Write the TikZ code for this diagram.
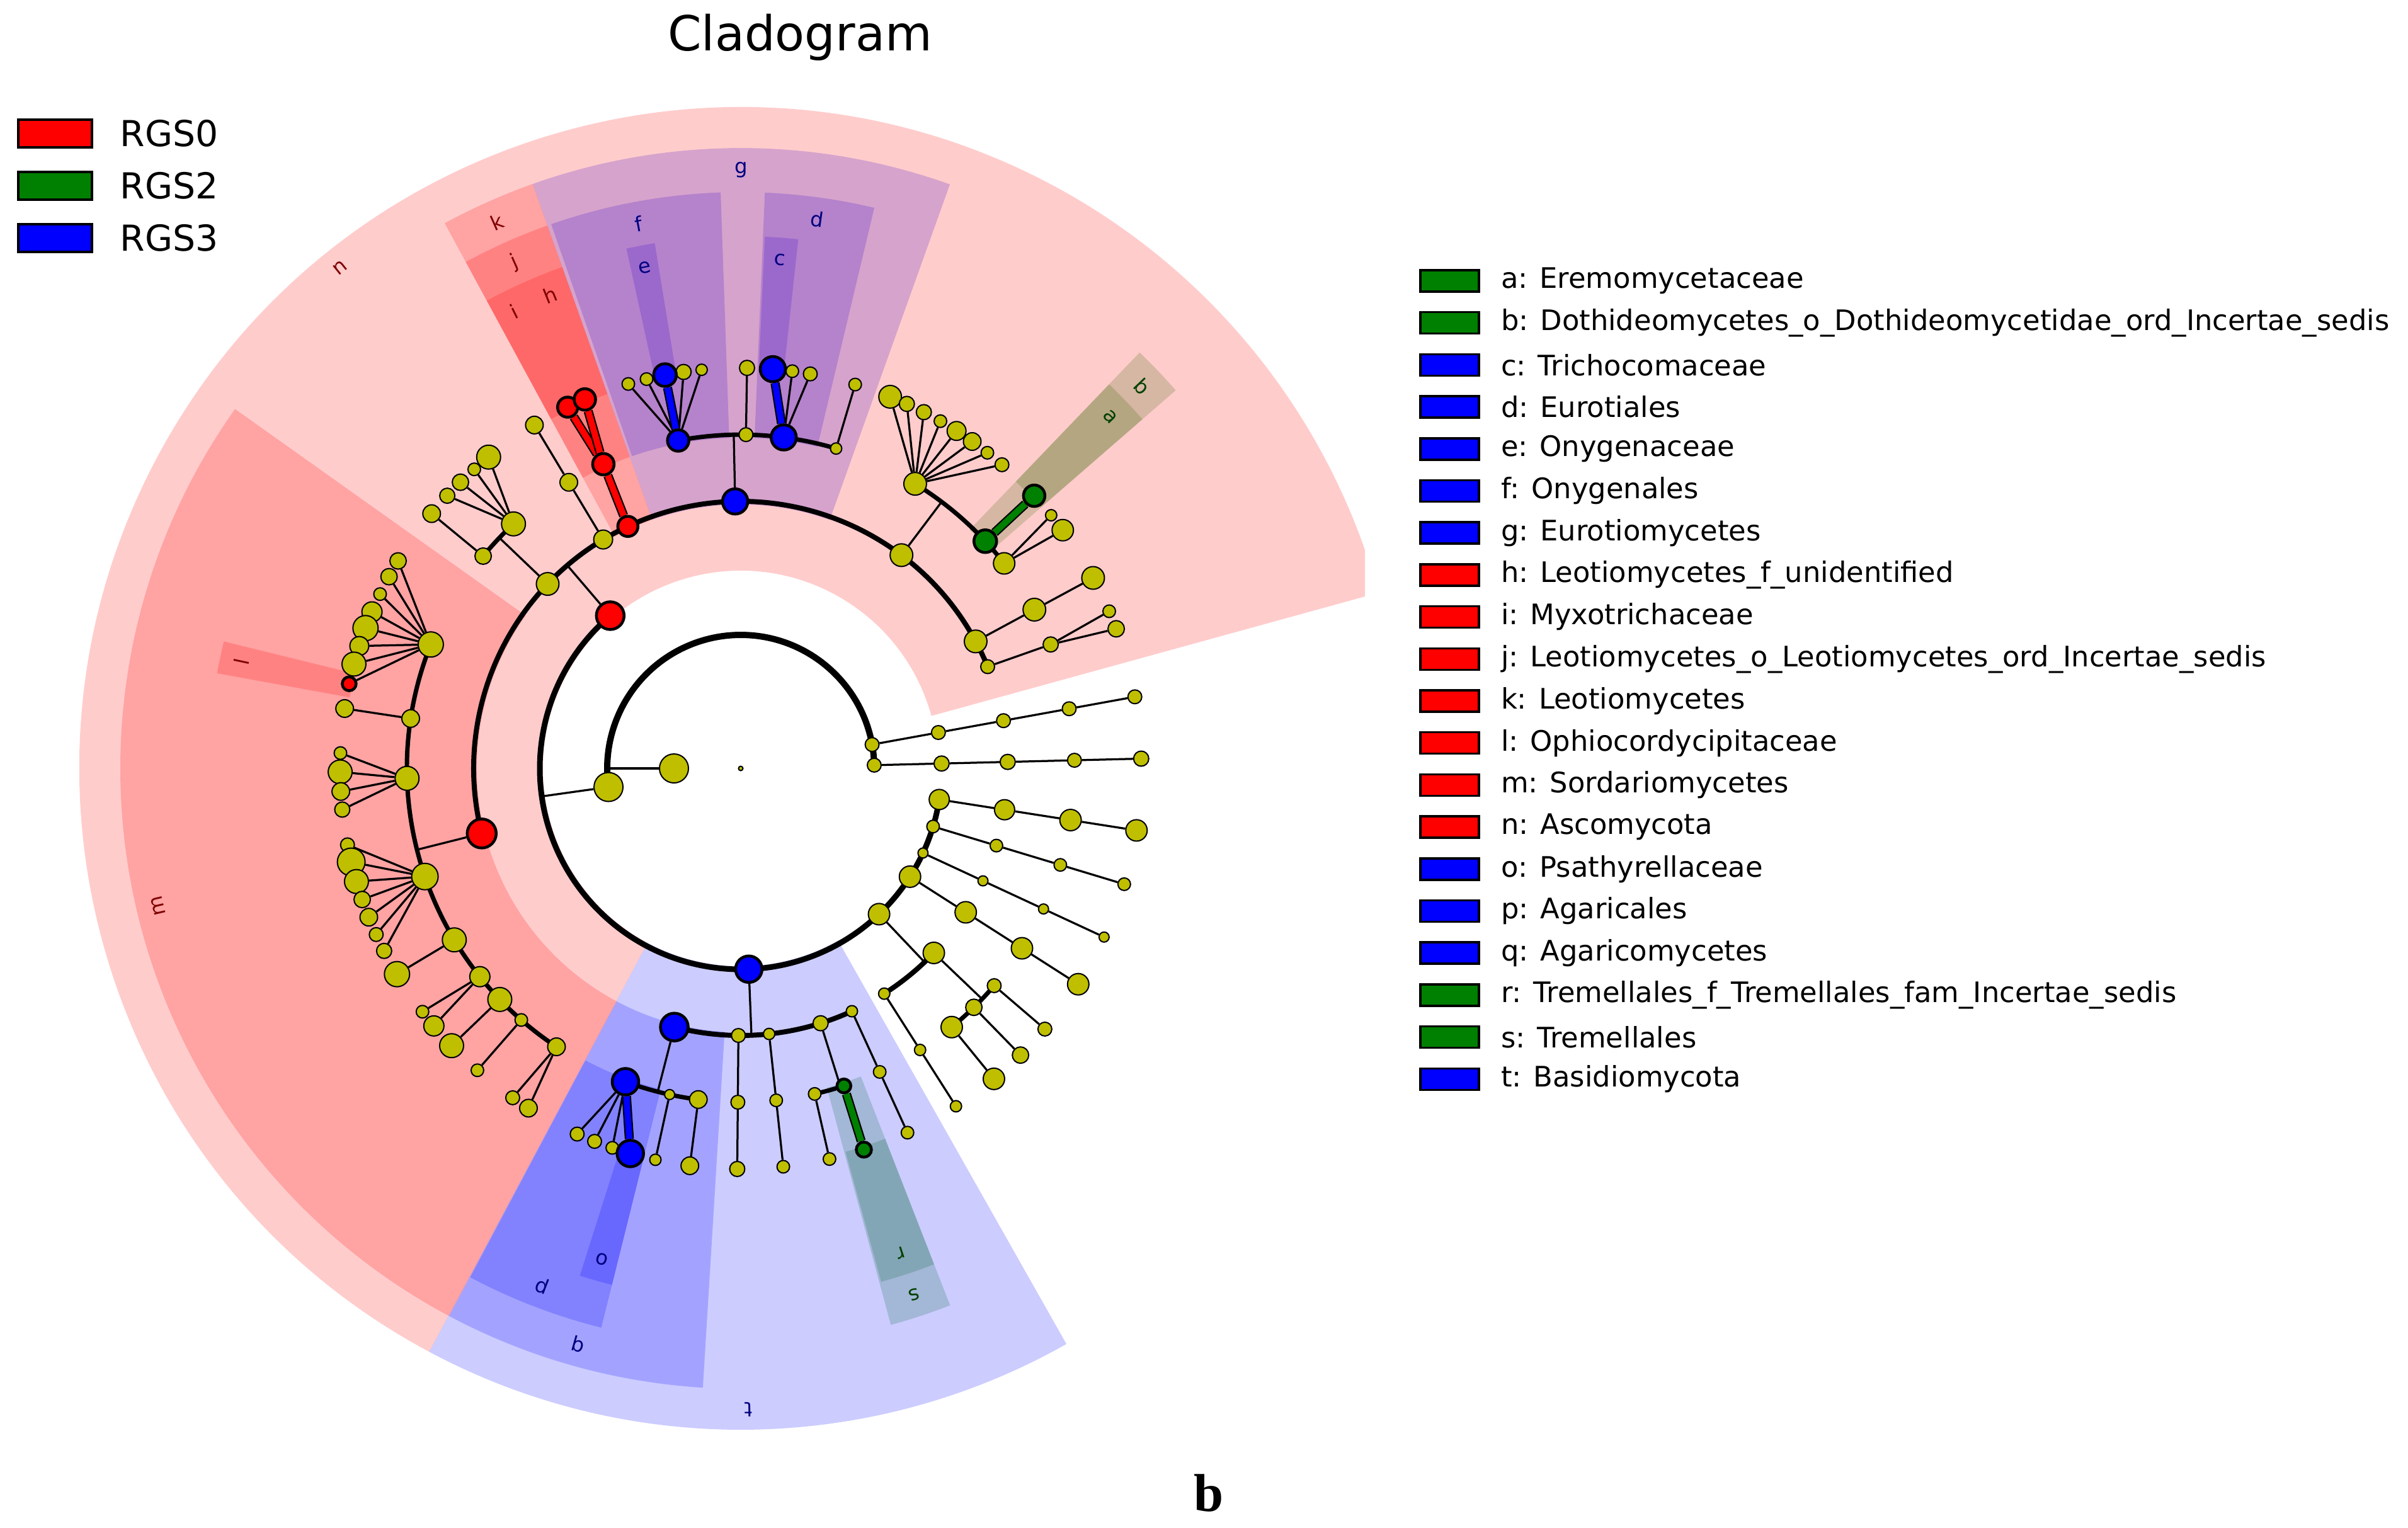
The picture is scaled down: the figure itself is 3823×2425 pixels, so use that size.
\documentclass[tikz,border=0pt]{standalone}
\usepackage{fontspec}
\setmainfont{DejaVu Sans}
\newfontfamily\panelfont{Liberation Serif}

\definecolor{ylw}{rgb}{0.75,0.75,0}
\definecolor{rgsred}{rgb}{1,0,0}
\definecolor{rgsgreen}{rgb}{0,0.5,0}
\definecolor{rgsblue}{rgb}{0,0,1}

\pgfdeclarelayer{paper}
\pgfdeclarelayer{shade}
\pgfdeclarelayer{edges}
\pgfsetlayers{paper,shade,edges,main}

\tikzset{
  yn/.style={circle, draw=black, line width=0.4bp, fill=ylw, inner sep=0pt, minimum size=0.4bp*#1},
  hit/.style 2 args={circle, draw=black, line width=0.9bp, fill=#1, inner sep=0pt, minimum size=0.4bp*#2},
  twig/.style={line width=0.65bp},
  ring/.style={line width=#1},
  hitline/.style={draw=#1, line width=2bp, preaction={draw=black, line width=2.9bp}},
  wlab/.style={font=\fontsize{6.5}{7}\selectfont, inner sep=0pt},
  keybox/.style={draw=black, line width=0.7bp, fill=#1, inner sep=0pt}
}

\newcommand{\cladesector}[7]{%
  \begin{pgfonlayer}{shade}
  \begin{scope}
    \clip (-1200,1300) rectangle (991,-1300);
    \fill[#1, opacity=0.2] (#2:#4) arc[start angle=#2, end angle=#3, radius=#4]
      -- (#3:#5) arc[start angle=#3, end angle=#2, radius=#5] -- cycle;
  \end{scope}
  \end{pgfonlayer}
  \pgfmathsetmacro\midang{(#2+#3)/2}
  \node[wlab, text=#1!50!black, rotate=\midang-90] (lab#7) at (\midang:#6) {#7};}

\newcommand{\bridge}[5]{%
  \coordinate (#1-stem) at (#2:#3);
  \pgfmathsetmacro\ringw{2.4-0.0019*#3}
  \begin{pgfonlayer}{edges}
    \draw[twig] (#1) -- (#1-stem);
    \draw[ring=\ringw bp] (#4:#3) arc[start angle=#4, end angle=#5, radius=#3];
  \end{pgfonlayer}}

\newcommand{\chainout}[3]{%
  \foreach \r/\s [count=\i] in {#3}{%
    \pgfmathtruncatemacro\j{\i-1}
    \node[yn=\s] (#1-\i) at (#2:\r) {};
    \begin{pgfonlayer}{edges}
      \ifnum\i=1 \draw[twig] (#1) -- (#1-\i);
      \else \draw[twig] (#1-\j) -- (#1-\i); \fi
    \end{pgfonlayer}}}

\newcommand{\fanout}[3]{%
  \foreach \a/\s [count=\i] in {#3}{%
    \node[yn=\s] (#1-\i) at (\a:#2) {};
    \begin{pgfonlayer}{edges}\draw[twig] (#1) -- (#1-\i);\end{pgfonlayer}}}

\begin{document}
\begin{tikzpicture}[x=0.2bp, y=0.2bp]
\useasboundingbox (0,0) rectangle (3823,-2425);
\begin{pgfonlayer}{paper}
\fill[white] (0,0) rectangle (3823,-2425);
\end{pgfonlayer}

\node[font=\fontsize{15.4}{18}\selectfont, anchor=base] (title) at (1270,-80) {Cladogram};

\foreach \c/\t [count=\i] in {rgsred/RGS0, rgsgreen/RGS2, rgsblue/RGS3}{
  \node[keybox=\c, minimum width=23.4bp, minimum height=8.8bp] (key\i) at (87.5,{-212-83*(\i-1)}) {};
  \node[anchor=west, font=\fontsize{11.4}{13}\selectfont, inner sep=0pt] (keytext\i) at (190,{-212-83*(\i-1)}) {\t};
}

\foreach \c/\t [count=\i] in {
  rgsgreen/a: Eremomycetaceae,
  rgsgreen/b: Dothideomycetes\_o\_Dothideomycetidae\_ord\_Incertae\_sedis,
  rgsblue/c: Trichocomaceae,
  rgsblue/d: Eurotiales,
  rgsblue/e: Onygenaceae,
  rgsblue/f: Onygenales,
  rgsblue/g: Eurotiomycetes,
  rgsred/h: Leotiomycetes\_f\_unidentified,
  rgsred/i: Myxotrichaceae,
  rgsred/j: Leotiomycetes\_o\_Leotiomycetes\_ord\_Incertae\_sedis,
  rgsred/k: Leotiomycetes,
  rgsred/l: Ophiocordycipitaceae,
  rgsred/m: Sordariomycetes,
  rgsred/n: Ascomycota,
  rgsblue/o: Psathyrellaceae,
  rgsblue/p: Agaricales,
  rgsblue/q: Agaricomycetes,
  rgsgreen/r: Tremellales\_f\_Tremellales\_fam\_Incertae\_sedis,
  rgsgreen/s: Tremellales,
  rgsblue/t: Basidiomycota}{
  \node[keybox=\c, minimum width=18.6bp, minimum height=6.8bp] (tax\i) at (2301.5,{-446-66.7*(\i-1)}) {};
  \node[anchor=west, font=\fontsize{9}{11}\selectfont, inner sep=0pt] (taxtext\i) at (2382,{-446-66.7*(\i-1)}) {\t};
}

\node[font=\panelfont\bfseries\fontsize{17}{20}\selectfont] (panel) at (1919,-2370) {b};

\begin{scope}[shift={(1176,-1220)}]
% shaded clades, deepest first
\cladesector{rgsred}{166.2}{169.7}{631}{845}{810}{l}
\cladesector{rgsred}{114.3}{118.5}{631}{845}{810}{i}
\cladesector{rgsred}{109.6}{114.3}{631}{845}{810}{h}
\cladesector{rgsblue}{99.3}{102.4}{631}{845}{810}{e}
\cladesector{rgsblue}{83.8}{87.4}{631}{845}{810}{c}
\cladesector{rgsgreen}{41}{46.2}{631}{845}{810}{a}
\cladesector{rgsblue}{252.4}{256}{631}{845}{810}{o}
\cladesector{rgsgreen}{285.3}{291.3}{631}{845}{810}{r}
\cladesector{rgsred}{109.6}{118.5}{525}{915}{880}{j}
\cladesector{rgsblue}{92}{109.2}{525}{915}{880}{f}
\cladesector{rgsblue}{76.6}{87.6}{525}{915}{880}{d}
\cladesector{rgsgreen}{41}{46.2}{525}{915}{880}{b}
\cladesector{rgsblue}{242}{256}{525}{915}{880}{p}
\cladesector{rgsgreen}{285.1}{291.3}{525}{915}{880}{s}
\cladesector{rgsred}{144.6}{242}{419}{985}{950}{m}
\cladesector{rgsred}{109.6}{118.5}{419}{985}{950}{k}
\cladesector{rgsblue}{70.3}{109.6}{419}{985}{950}{g}
\cladesector{rgsblue}{242}{266.5}{419}{985}{950}{q}
\cladesector{rgsred}{15.4}{241.9}{314}{1050}{1018}{n}
\cladesector{rgsblue}{241.9}{299.5}{314}{1050}{1018}{t}

\node[yn=3.5] (root) at (0,0) {};
\node[yn=23] (K) at (180:106) {};
\bridge{K}{180}{212}{1.4}{188}
\node[yn=23] (A2) at (188:212) {};
\node[yn=11] (B2) at (10.3:212) {};
\node[yn=11] (C2) at (1.4:212) {};
\bridge{A2}{188}{319}{130.5}{351.1}
\node[hit={rgsred}{22}] (n) at (130.5:319) {};
\node[hit={rgsblue}{21}] (t) at (272.3:319) {};
\node[yn=17] (R1) at (313.5:319) {};
\node[yn=17] (R2) at (327.4:319) {};
\node[yn=8] (R3) at (335.1:319) {};
\node[yn=10] (R4) at (343.2:319) {};
\node[yn=16] (R5) at (351.1:319) {};
\chainout{B2}{10.3}{319/11,424/11,530/11,636/11}
\chainout{C2}{1.4}{319/12,424/12,530/11,636/12}
\chainout{R5}{351.1}{424/16,530/17,636/17}
\chainout{R4}{343.2}{424/10,530/10,636/10}
\chainout{R3}{335.1}{424/8,530/8,636/8}
\chainout{R2}{327.4}{424/17,530/17,636/17}
\bridge{R1}{313.5}{424}{302.5}{316.3}
\node[yn=17] (R1a) at (316.3:424) {};
\node[yn=9] (R1b) at (302.5:424) {};
\chainout{R1b}{302.5}{530/9,636/9}
\bridge{R1a}{316.3}{530}{309.2}{319.4}
\node[yn=11] (R1a1) at (319.4:530) {};
\node[yn=13] (R1a2) at (314.3:530) {};
\node[yn=17] (R1a3) at (309.2:530) {};
\chainout{R1a1}{319.4}{636/11}
\chainout{R1a2}{314.3}{636/13}
\chainout{R1a3}{309.2}{636/17}

\bridge{n}{130.5}{424}{22.4}{194.1}
\node[hit={rgsred}{23}] (m) at (194.1:424) {};
\node[yn=18] (Y136) at (136.3:424) {};
\node[yn=15] (Y121) at (121:424) {};
\node[hit={rgsred}{16}] (k) at (115:424) {};
\node[hit={rgsblue}{20}] (g) at (91.2:424) {};
\node[yn=18] (Y53) at (53:424) {};
\node[yn=18] (Y28) at (28.4:424) {};
\node[yn=11] (Y22) at (22.4:424) {};

\bridge{m}{194.1}{530}{158.2}{236.5}
\node[yn=20] (m1) at (158.2:530) {};
\node[yn=14] (m2) at (171.4:530) {};
\node[yn=19] (m3) at (181.7:530) {};
\node[yn=21] (m4) at (198.9:530) {};
\node[yn=19] (m5) at (210.9:530) {};
\node[yn=16] (m6) at (218.6:530) {};
\node[yn=19] (m7) at (223.8:530) {};
\node[yn=10] (m8) at (228.9:530) {};
\node[yn=14] (m9) at (236.5:530) {};
\fanout{m1}{636}{148.8/13,151.4/13,154.2/10,157/16,159.5/20,162.2/15,164.9/19}
\node[hit={rgsred}{11}] (l) at (167.8:636) {};
\begin{pgfonlayer}{edges}\draw[twig] (m1) -- (l);\end{pgfonlayer}
\chainout{m2}{171.4}{636/14}
\fanout{m3}{636}{177.8/10,180.5/19,183.3/14,185.9/12}
\fanout{m4}{636}{191/11,193.5/22,196.4/19,199.1/13,201.8/14,204.5/11,207.1/12}
\chainout{m5}{210.9}{636/20}
\fanout{m6}{636}{217.4/10,220/16}
\chainout{m7}{223.8}{636/19}
\chainout{m8}{228.9}{636/10}
\fanout{m9}{636}{235.3/11,238/14}

\bridge{Y136}{136.3}{530}{132.9}{140.5}
\node[yn=13] (Y136a) at (140.5:530) {};
\node[yn=19] (Y136b) at (132.9:530) {};
\chainout{Y136a}{140.5}{636/14}
\fanout{Y136b}{636}{137.1/12,134.4/13,131.7/10,129/19}
\chainout{Y121}{121}{530/14,636/14}

\node[hit={rgsred}{17}] (j) at (114.3:530) {};
\node[hit={rgsred}{16}] (i) at (115.6:636) {};
\node[hit={rgsred}{17}] (h) at (112.9:636) {};
\begin{pgfonlayer}{edges}
\draw[hitline=rgsred] (k) -- (j);
\draw[hitline=rgsred] (j) -- (i);
\draw[hitline=rgsred] (j) -- (h);
\end{pgfonlayer}

\bridge{g}{91.2}{530}{73.4}{100.8}
\node[hit={rgsblue}{17}] (f) at (100.8:530) {};
\node[yn=11] (Y89) at (89.1:530) {};
\node[hit={rgsblue}{20}] (d) at (82.6:530) {};
\node[yn=9] (Y73) at (73.4:530) {};
\fanout{f}{636}{106.3/10,103.6/10,98.2/12,95.6/9}
\node[hit={rgsblue}{18}] (e) at (100.9:636) {};
\chainout{Y89}{89.1}{636/12}
\fanout{d}{636}{82.6/10,80/11}
\node[hit={rgsblue}{20}] (c) at (85.4:636) {};
\chainout{Y73}{73.4}{636/10}
\begin{pgfonlayer}{edges}
\draw[hitline=rgsblue] (f) -- (e);
\draw[hitline=rgsblue] (d) -- (c);
\end{pgfonlayer}

\bridge{Y53}{53}{530}{37.9}{58.5}
\node[yn=18] (F58) at (58.5:530) {};
\node[hit={rgsgreen}{18}] (b) at (42.9:530) {};
\node[yn=17] (F38) at (37.9:530) {};
\fanout{F58}{636}{68.1/18,65.5/12,62.8/12,60.1/10,57.4/15,54.7/14,52/10,49.3/11}
\node[hit={rgsgreen}{17}] (a) at (42.9:636) {};
\fanout{F38}{636}{39.2/9,36.5/17}
\begin{pgfonlayer}{edges}\draw[hitline=rgsgreen] (b) -- (a);\end{pgfonlayer}
\chainout{Y28}{28.4}{530/18,636/18}
\chainout{Y22}{21.8}{530/12}
\fanout{Y22-1}{636}{23.1/10,20.4/13}

\bridge{t}{272.3}{424}{255.6}{294.6}
\node[hit={rgsblue}{22}] (q) at (255.6:424) {};
\node[yn=11] (T269) at (269.5:424) {};
\node[yn=9] (T276) at (276.1:424) {};
\node[yn=12] (T287) at (287.4:424) {};
\node[yn=9] (T294) at (294.6:424) {};
\bridge{q}{255.6}{530}{249.8}{262.7}
\node[hit={rgsblue}{21}] (p) at (249.8:530) {};
\node[yn=8] (Y257) at (257.7:530) {};
\node[yn=14] (Y262) at (262.7:530) {};
\fanout{p}{636}{245.9/11,248.6/11,251.3/10}
\node[hit={rgsblue}{21}] (o) at (254:636) {};
\begin{pgfonlayer}{edges}\draw[hitline=rgsblue] (p) -- (o);\end{pgfonlayer}
\chainout{Y257}{257.7}{636/9}
\chainout{Y262}{262.7}{636/14}
\chainout{T269}{269.5}{530/11,636/12}
\chainout{T276}{276.1}{530/10,636/10}
\bridge{T287}{287.4}{530}{282.8}{288}
\node[yn=10] (Y283) at (282.8:530) {};
\node[hit={rgsgreen}{11}] (s) at (288:530) {};
\chainout{Y283}{282.8}{636/10}
\node[hit={rgsgreen}{12}] (r) at (287.9:636) {};
\begin{pgfonlayer}{edges}\draw[hitline=rgsgreen] (s) -- (r);\end{pgfonlayer}
\chainout{T294}{294.6}{530/10,636/10}
\end{scope}
\end{tikzpicture}
\end{document}
